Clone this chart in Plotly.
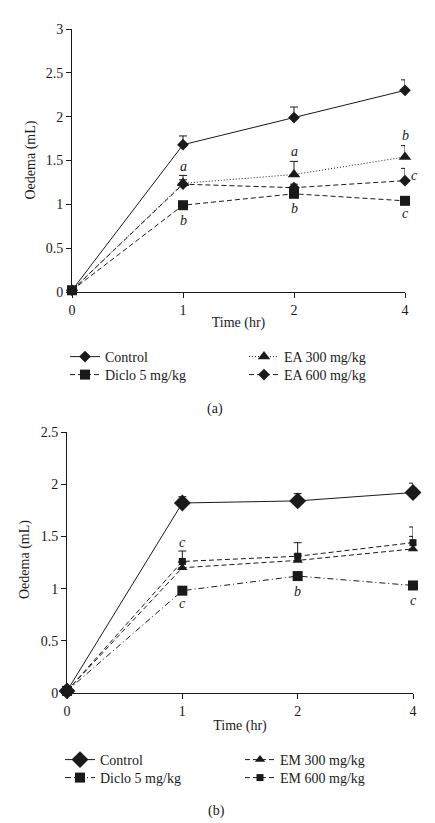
import plotly.graph_objects as go

W, H = 435, 823
FONT = "Liberation Serif"
INK = "#1a1a1a"
FS = 14

time_labels = ["0", "1", "2", "4"]

# Panel (a)
a_control = [0.02, 1.68, 1.99, 2.30]
a_control_err = [0, 0.10, 0.12, 0.12]
a_ea300 = [0.02, 1.24, 1.34, 1.54]
a_ea300_err = [0, 0.09, 0.15, 0.13]
a_diclo = [0.02, 0.99, 1.12, 1.04]
a_diclo_err = [0, 0, 0, 0]
a_ea600 = [0.02, 1.23, 1.19, 1.27]
a_ea600_err = [0, 0.05, 0.04, 0.14]

# Panel (b)
b_control = [0.02, 1.82, 1.84, 1.92]
b_control_err = [0, 0.06, 0.07, 0.09]
b_diclo = [0.02, 0.98, 1.12, 1.03]
b_diclo_err = [0, 0, 0, 0]
b_em300 = [0.02, 1.20, 1.27, 1.38]
b_em300_err = [0, 0.05, 0.06, 0.12]
b_em600 = [0.02, 1.26, 1.31, 1.44]
b_em600_err = [0, 0.10, 0.13, 0.15]

# significance letters: (letter, time index, y value, x pixel shift)
a_letters = [("a", 1, 1.43, 0), ("b", 1, 0.81, 0), ("a", 2, 1.60, 0), ("b", 2, 0.95, 0),
             ("b", 3, 1.78, 0), ("c", 3, 1.33, 9), ("c", 3, 0.89, 0)]
b_letters = [("c", 1, 1.44, 0), ("c", 1, 0.86, 0), ("b", 2, 0.97, 0), ("c", 3, 0.89, 0)]

DASH = "5px,3px"
DOT = "1px,2px"
DASHDOT = "6px,3px,1px,3px"

fig = go.Figure()


def add(name, y, err, sym, size, dash, xa, ya, legend):
    fig.add_trace(go.Scatter(
        x=time_labels, y=y, name=name, mode="lines+markers",
        line=dict(color=INK, width=1, dash=dash),
        marker=dict(symbol=sym, size=size, color=INK),
        error_y=dict(type="data", array=err, arrayminus=[0] * len(err), symmetric=False,
                     color=INK, thickness=1, width=4),
        xaxis=xa, yaxis=ya, legend=legend, cliponaxis=False,
    ))


add("Control", a_control, a_control_err, "diamond", 9, "solid", "x", "y", "legend")
add("Diclo 5 mg/kg", a_diclo, a_diclo_err, "square", 10, DASH, "x", "y", "legend2")
add("EA 300 mg/kg", a_ea300, a_ea300_err, "triangle-up", 11, DOT, "x", "y", "legend3")
add("EA 600 mg/kg", a_ea600, a_ea600_err, "diamond", 9, DASH, "x", "y", "legend4")

add("Control", b_control, b_control_err, "diamond", 13, "solid", "x2", "y2", "legend5")
add("Diclo 5 mg/kg", b_diclo, b_diclo_err, "square", 10, DASHDOT, "x2", "y2", "legend6")
add("EM 300 mg/kg", b_em300, b_em300_err, "triangle-up", 9, DASH, "x2", "y2", "legend7")
add("EM 600 mg/kg", b_em600, b_em600_err, "square", 7, DASH, "x2", "y2", "legend8")

ann = []
for let, xi, yv, sh in a_letters:
    ann.append(dict(x=xi, y=yv, xref="x", yref="y", text="<i>%s</i>" % let, showarrow=False,
                    xshift=sh, font=dict(family=FONT, size=FS, color=INK)))
for let, xi, yv, sh in b_letters:
    ann.append(dict(x=xi, y=yv, xref="x2", yref="y2", text="<i>%s</i>" % let, showarrow=False,
                    xshift=sh, font=dict(family=FONT, size=FS, color=INK)))
ann.append(dict(x=207 / W, y=1 - 401 / H, xref="paper", yref="paper", text="(a)", showarrow=False,
                xanchor="center", yanchor="middle", font=dict(family=FONT, size=FS, color=INK)))
ann.append(dict(x=208 / W, y=1 - 803 / H, xref="paper", yref="paper", text="(b)", showarrow=False,
                xanchor="center", yanchor="middle", font=dict(family=FONT, size=FS, color=INK)))
# y-axis titles
ann.append(dict(x=22 / W, y=1 - 152.5 / H, xref="paper", yref="paper", text="Oedema (mL)",
                textangle=-90, showarrow=False, xanchor="center", yanchor="middle",
                font=dict(family=FONT, size=FS, color=INK)))
ann.append(dict(x=17 / W, y=1 - 552 / H, xref="paper", yref="paper", text="Oedema (mL)",
                textangle=-90, showarrow=False, xanchor="center", yanchor="middle",
                font=dict(family=FONT, size=FS, color=INK)))

axis_common = dict(showline=True, linecolor=INK, linewidth=1, ticks="outside", ticklen=5,
                   tickcolor=INK, tickfont=dict(family=FONT, size=FS, color=INK),
                   showgrid=False, zeroline=False)

fig.update_layout(
    width=W, height=H, margin=dict(l=0, r=0, t=0, b=0, autoexpand=False),
    paper_bgcolor="white", plot_bgcolor="white",
    font=dict(family=FONT, size=FS, color=INK),
    xaxis=dict(domain=[64 / W, 397 / W], type="category", range=[0, 3], anchor="y",
               title=dict(text="Time (hr)", standoff=0, font=dict(family=FONT, size=FS)), **axis_common),
    yaxis=dict(domain=[1 - 284 / H, 1 - 21 / H], range=[0, 3], dtick=0.5, anchor="x", **axis_common),
    xaxis2=dict(domain=[59 / W, 405 / W], type="category", range=[0, 3], anchor="y2",
                title=dict(text="Time (hr)", standoff=2, font=dict(family=FONT, size=FS)), **axis_common),
    yaxis2=dict(domain=[1 - 685 / H, 1 - 424 / H], range=[0, 2.5], dtick=0.5, anchor="x2", **axis_common),
    annotations=ann,
    showlegend=True,
)

leg_common = dict(font=dict(family=FONT, size=FS, color=INK), bgcolor="rgba(0,0,0,0)",
                  itemwidth=30, tracegroupgap=0, xanchor="left", yanchor="middle", orientation="v")
# legend slots: (text-left pixel, row-centre pixel)
slots = {
    "legend": (88, 349), "legend2": (88, 367), "legend3": (267, 349), "legend4": (267, 367),
    "legend5": (83, 752), "legend6": (83, 770), "legend7": (263, 752), "legend8": (263, 770),
}
for key, (tx, cy) in slots.items():
    fig.update_layout({key: dict(x=(tx - 31) / W, y=1 - cy / H, **leg_common)})

fig.write_html("out.html")
